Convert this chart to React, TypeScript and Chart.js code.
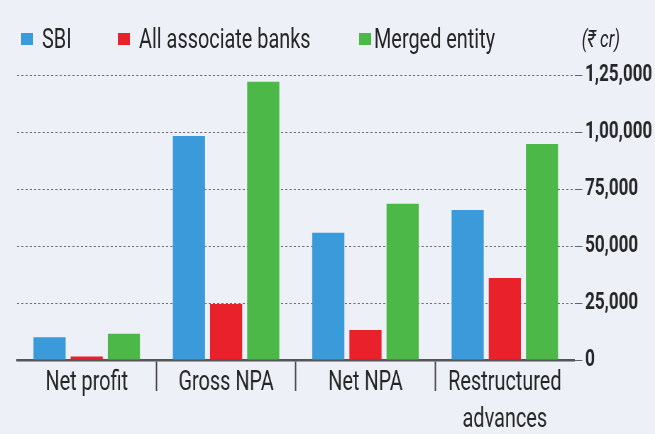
import React, { useEffect, useRef } from "react";
import { Chart, registerables } from "chart.js";

Chart.register(...registerables);

// ---- data ----
const categories: (string | string[])[] = ["Net profit", "Gross NPA", "Net NPA", ["Restructured", "advances"]];
const seriesNames = ["SBI", "All associate banks", "Merged entity"];
const sbiValues = [9950, 98200, 55800, 65800];
const associateValues = [1500, 24600, 13200, 36000];
const mergedValues = [11500, 122000, 68500, 94700];
const yTickValues = [0, 25000, 50000, 75000, 100000, 125000];
const unitLabel = "(₹ cr)";

// ---- style ----
const seriesColors = ["#3b9ad9", "#e8212b", "#4cb848"];
const BG = "#eef0f8";
const TEXT = "#262626";
const FONT = "Roboto, 'Noto Sans', sans-serif";
const W = 655;
const H = 434;
const SX = 0.71; // horizontal condensing of the whole drawing
const IW = Math.round(W / SX);
const legendBoxX = [21, 118, 359];
const legendTextX = [42, 139, 374];

function indianFormat(n: number): string {
  const s = Math.round(n).toString();
  if (s.length <= 3) return s;
  const last3 = s.slice(-3);
  let rest = s.slice(0, -3);
  const parts: string[] = [];
  while (rest.length > 2) {
    parts.unshift(rest.slice(-2));
    rest = rest.slice(0, -2);
  }
  if (rest.length) parts.unshift(rest);
  return parts.join(",") + "," + last3;
}

export default function App() {
  const ref = useRef<HTMLCanvasElement | null>(null);

  useEffect(() => {
    document.body.style.margin = "0";
    if (!ref.current) return;
    const values = [sbiValues, associateValues, mergedValues];
    const chart = new Chart(ref.current, {
      type: "bar",
      data: {
        labels: categories,
        datasets: seriesNames.map((name, i) => ({
          label: name,
          data: values[i],
          backgroundColor: seriesColors[i],
          borderWidth: 0,
          categoryPercentage: 0.8,
          barPercentage: 0.865,
        })),
      },
      options: {
        animation: false,
        responsive: false,
        maintainAspectRatio: false,
        devicePixelRatio: 1,
        layout: { padding: { top: 75, right: 0, left: Math.round(17 / SX), bottom: 0 } },
        plugins: { legend: { display: false }, tooltip: { enabled: false } },
        scales: {
          x: {
            afterFit: (scale: any) => {
              scale.height = 74;
            },
            grid: {
              offset: true,
              drawOnChartArea: false,
              drawTicks: true,
              tickLength: 31,
              tickWidth: 2,
              tickColor: (ctx: any) =>
                ctx.type !== "tick" || ctx.index === 0 ? "rgba(0,0,0,0)" : "#444",
            },
            border: { display: true, color: "#555", width: 2.5 },
            ticks: {
              padding: -27,
              color: TEXT,
              maxRotation: 0,
              autoSkip: false,
              font: { family: FONT, size: 28, lineHeight: 1.33 },
            },
          },
          y: {
            position: "right",
            min: 0,
            max: 125000,
            afterBuildTicks: (scale: any) => {
              scale.ticks = yTickValues.map((v) => ({ value: v }));
            },
            grid: {
              color: "#6e6e6e",
              lineWidth: 1,
              drawTicks: true,
              tickLength: 11,
              tickColor: "#666",
              tickBorderDash: [],
            },
            border: { display: false, dash: [3, 3] },
            ticks: {
              padding: 4,
              color: TEXT,
              font: { family: FONT, size: 24, weight: "bold" },
              callback: (v: any) => indianFormat(Number(v)),
            },
          },
        },
      } as any,
    });
    return () => chart.destroy();
  }, []);

  const textStyle = (left: number, top: number, size: number, extra: any = {}) => ({
    position: "absolute" as const,
    left,
    top,
    fontFamily: FONT,
    fontSize: size,
    lineHeight: `${size}px`,
    color: TEXT,
    whiteSpace: "nowrap" as const,
    transform: `scaleX(${SX})`,
    transformOrigin: "0 50%",
    ...extra,
  });

  return (
    <div
      style={{
        position: "absolute",
        left: 0,
        top: 0,
        width: W,
        height: H,
        overflow: "hidden",
        background: BG,
      }}
    >
      <canvas
        ref={ref}
        width={IW}
        height={H}
        style={{ position: "absolute", left: 0, top: 0, width: W, height: H }}
      />
      {seriesNames.map((name, i) => (
        <React.Fragment key={name}>
          <div
            style={{
              position: "absolute",
              left: legendBoxX[i],
              top: 33,
              width: 12,
              height: 12,
              background: seriesColors[i],
            }}
          />
          <div style={textStyle(legendTextX[i], 25, 28)}>{name}</div>
        </React.Fragment>
      ))}
      <div
        style={{
          position: "absolute",
          right: 35,
          top: 27,
          fontFamily: FONT,
          fontSize: 24,
          lineHeight: "24px",
          fontStyle: "italic",
          color: TEXT,
          whiteSpace: "nowrap",
          transform: `scaleX(${SX})`,
          transformOrigin: "100% 50%",
        }}
      >
        {unitLabel}
      </div>
    </div>
  );
}
